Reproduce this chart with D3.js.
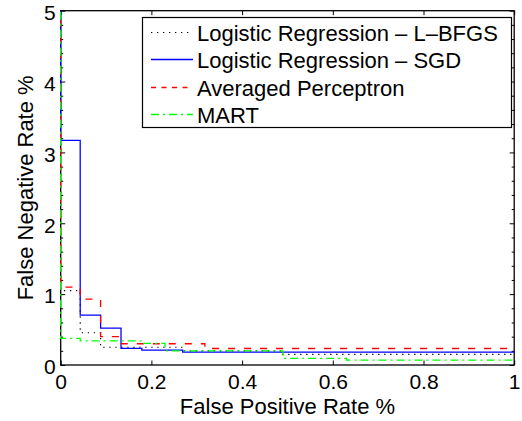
<!DOCTYPE html>
<html>
<head>
<meta charset="utf-8">
<script src="https://cdn.jsdelivr.net/npm/d3@7"></script>
<style>
  html, body { margin: 0; padding: 0; background: #fff; }
  svg { display: block; }
  text { font-family: "Liberation Sans", Arial, Helvetica, sans-serif; fill: #000; }
</style>
</head>
<body>
<svg id="chart" width="522" height="421"></svg>
<script>
// ---- data ----
const seriesNames = ["Logistic Regression \u2013 L\u2013BFGS", "Logistic Regression \u2013 SGD", "Averaged Perceptron", "MART"];
const fprLBFGS = [0, 0, 0.043, 0.088, 0.267, 0.49, 1];
const fnrLBFGS = [6, 1.05, 0.455, 0.25, 0.20, 0.15, 0.15];
const fprSGD = [0, 0, 0.043, 0.088, 0.133, 0.179, 0.269, 1];
const fnrSGD = [6, 3.17, 0.705, 0.52, 0.235, 0.21, 0.183, 0.183];
const fprAP = [0, 0, 0.043, 0.088, 0.134, 0.318, 1];
const fnrAP = [6, 1.10, 0.93, 0.40, 0.30, 0.233, 0.233];
const fprMART = [0, 0, 0.043, 0.18, 0.23, 0.49, 0.63, 1];
const fnrMART = [6, 0.376, 0.34, 0.306, 0.20, 0.094, 0.07, 0.07];
const xTicks = [0, 0.2, 0.4, 0.6, 0.8, 1];
const xTickLabels = ["0", "0.2", "0.4", "0.6", "0.8", "1"];
const yTicks = [0, 1, 2, 3, 4, 5];
const yTickLabels = ["0", "1", "2", "3", "4", "5"];
const xLabel = "False Positive Rate %";
const yLabel = "False Negative Rate %";

// ---- layout ----
const svg = d3.select("#chart");
const L = 60.7, R = 514.2, T = 10.7, B = 365;
const FS = 22, TFS = 21;
const x = d3.scaleLinear().domain([0, 1]).range([L, R]);
const y = d3.scaleLinear().domain([0, 5]).range([B, T]);

const styles = [
  { color: "#000000", dash: "1.3,4.7", legDash: "1.3,4.7", width: 1.1 },
  { color: "#0000ff", dash: null, legDash: null, width: 1.3 },
  { color: "#ff0000", dash: "7,9", legDash: "5,5.5", width: 1.3 },
  { color: "#00ff00", dash: "8,4,2,4", legDash: "8,4,2,4", width: 1.3 }
];
const series = [
  fprLBFGS.map((v, i) => [v, fnrLBFGS[i]]),
  fprSGD.map((v, i) => [v, fnrSGD[i]]),
  fprAP.map((v, i) => [v, fnrAP[i]]),
  fprMART.map((v, i) => [v, fnrMART[i]])
];

svg.append("defs").append("clipPath").attr("id", "clip")
  .append("rect").attr("x", L - 2).attr("y", T).attr("width", R - L + 2).attr("height", B - T);

// axes (bottom, top, left, right) via d3 axes
const minor = d3.range(0, 5.0001, 0.2).filter(v => Math.abs(v - Math.round(v)) > 1e-6);
function styleAxis(g) {
  g.selectAll(".domain").remove();
  g.selectAll(".tick line").attr("stroke", "#000").attr("stroke-width", 1);
  g.selectAll("text").attr("font-size", TFS).attr("font-family", "Liberation Sans, Arial, sans-serif").attr("fill", "#000");
}
const gx = svg.append("g").attr("transform", `translate(0,${B})`)
  .call(d3.axisBottom(x).tickValues(xTicks).tickFormat((d, i) => xTickLabels[i]).tickSizeInner(-4.5).tickSizeOuter(0).tickPadding(9));
styleAxis(gx);
gx.selectAll("text").attr("dy", null).attr("y", 24);
const gxt = svg.append("g").attr("transform", `translate(0,${T})`)
  .call(d3.axisTop(x).tickValues(xTicks).tickFormat("").tickSizeInner(-4.5).tickSizeOuter(0));
styleAxis(gxt);
const gy = svg.append("g").attr("transform", `translate(${L},0)`)
  .call(d3.axisLeft(y).tickValues(yTicks).tickFormat((d, i) => yTickLabels[i]).tickSizeInner(-4.5).tickSizeOuter(0).tickPadding(9));
styleAxis(gy);
gy.selectAll("text").attr("x", -5).attr("dy", "0.42em");
const gym = svg.append("g").attr("transform", `translate(${L},0)`)
  .call(d3.axisLeft(y).tickValues(minor).tickFormat("").tickSizeInner(-2.5).tickSizeOuter(0));
styleAxis(gym);
const gyr = svg.append("g").attr("transform", `translate(${R},0)`)
  .call(d3.axisRight(y).tickValues(yTicks).tickFormat("").tickSizeInner(-4.5).tickSizeOuter(0));
styleAxis(gyr);
const gyrm = svg.append("g").attr("transform", `translate(${R},0)`)
  .call(d3.axisRight(y).tickValues(minor).tickFormat("").tickSizeInner(-2.5).tickSizeOuter(0));
styleAxis(gyrm);

// box
svg.append("rect").attr("x", L).attr("y", T).attr("width", R - L).attr("height", B - T)
  .attr("fill", "none").attr("stroke", "#000").attr("stroke-width", 1.3);

// lines
const line = d3.line().x(d => x(d[0])).y(d => y(d[1])).curve(d3.curveStepAfter);
const gl = svg.append("g").attr("clip-path", "url(#clip)");
series.forEach((s, i) => {
  gl.append("path").attr("d", line(s)).attr("fill", "none")
    .attr("stroke", styles[i].color).attr("stroke-width", styles[i].width)
    .attr("stroke-dasharray", styles[i].dash);
});

// axis labels
svg.append("text").attr("x", (L + R) / 2).attr("y", 413.5).attr("text-anchor", "middle")
  .attr("font-size", FS).text(xLabel);
svg.append("text").attr("transform", `translate(32.5,${(T + B) / 2}) rotate(-90)`)
  .attr("text-anchor", "middle").attr("font-size", FS).text(yLabel);

// legend
const lg = svg.append("g");
lg.append("rect").attr("x", 142.5).attr("y", 17.5).attr("width", 511.5 - 142.5).attr("height", 127.5 - 17.5)
  .attr("fill", "#fff").attr("stroke", "#000").attr("stroke-width", 1.2);
seriesNames.forEach((name, i) => {
  const cy = 32.5 + Math.round(i * 27.3);
  lg.append("line").attr("x1", 151).attr("x2", 193).attr("y1", cy).attr("y2", cy)
    .attr("stroke", styles[i].color).attr("stroke-width", styles[i].width)
    .attr("stroke-dasharray", styles[i].legDash);
  lg.append("text").attr("x", 197).attr("y", cy + 8).attr("font-size", FS).text(name);
});
</script>
</body>
</html>
